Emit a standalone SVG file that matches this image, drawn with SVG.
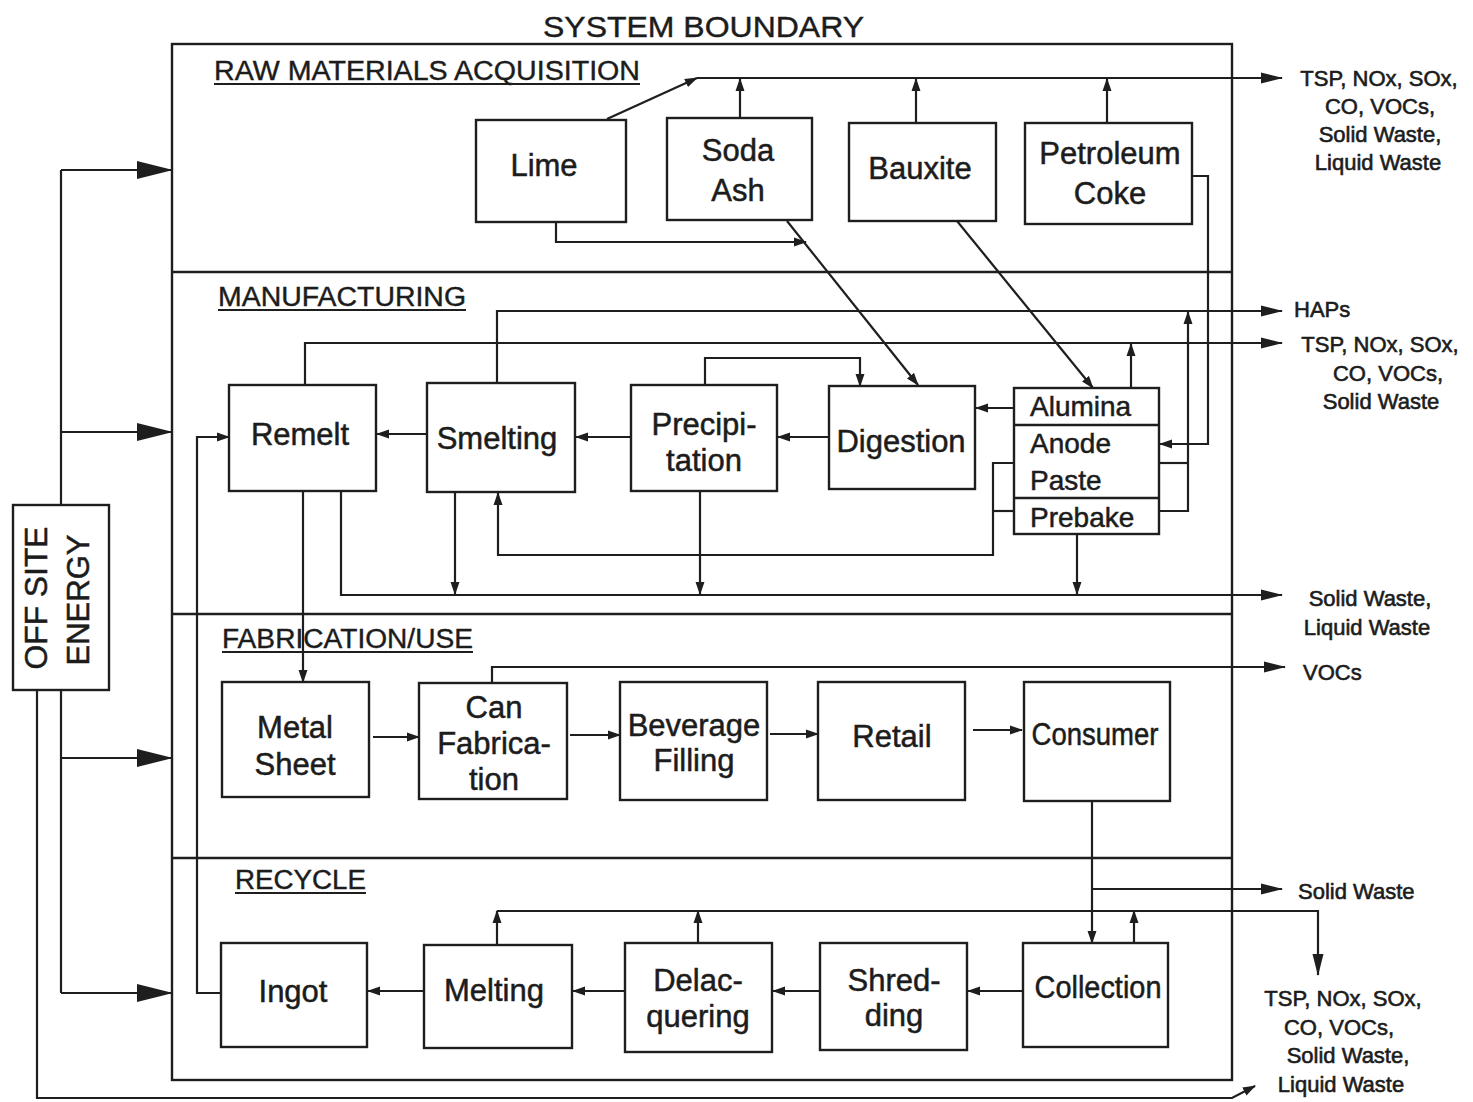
<svg xmlns="http://www.w3.org/2000/svg" width="1473" height="1102" viewBox="0 0 1473 1102">
<style>
.bg{fill:#fff}
.bd{fill:none;stroke:#1e1e1e;stroke-width:2.4}
.box{fill:#fff;stroke:#1e1e1e;stroke-width:2.4}
.t{font-family:"Liberation Sans",Arial,sans-serif;font-size:31px;fill:#1c1c1c;stroke:#1c1c1c;stroke-width:0.5;text-anchor:middle}
.ts{font-family:"Liberation Sans",Arial,sans-serif;font-size:28px;fill:#1c1c1c;stroke:#1c1c1c;stroke-width:0.5}
.sec{font-family:"Liberation Sans",Arial,sans-serif;font-size:27px;fill:#1c1c1c;stroke:#1c1c1c;stroke-width:0.4}
.em{font-family:"Liberation Sans",Arial,sans-serif;font-size:22px;fill:#1c1c1c;stroke:#1c1c1c;stroke-width:0.6;text-anchor:middle}
.c{fill:none;stroke:#1e1e1e;stroke-width:2.2}
.ul{stroke:#1e1e1e;stroke-width:2}
</style>
<defs>
<marker id="a" markerUnits="userSpaceOnUse" markerWidth="13" markerHeight="10" refX="12" refY="5" orient="auto"><path d="M0,0.5 L13,5 L0,9.5 z" fill="#1e1e1e"/></marker>
<marker id="b" markerUnits="userSpaceOnUse" markerWidth="22" markerHeight="12" refX="21" refY="6" orient="auto"><path d="M0,0.5 L22,6 L0,11.5 z" fill="#1e1e1e"/></marker>
<marker id="h" markerUnits="userSpaceOnUse" markerWidth="36" markerHeight="20" refX="35" refY="10" orient="auto"><path d="M0,1 L36,10 L0,19 z" fill="#1e1e1e"/></marker>
</defs>
<rect class="bg" x="0" y="0" width="1473" height="1102"/>

<g id="boundary">
<text x="543" y="37" textLength="321" lengthAdjust="spacingAndGlyphs" class="sec" style="font-size:29px">SYSTEM BOUNDARY</text>
<rect class="bd" x="172" y="44" width="1060" height="1036"/>
<line class="bd" x1="172" y1="272" x2="1232" y2="272"/>
<line class="bd" x1="172" y1="614" x2="1232" y2="614"/>
<line class="bd" x1="172" y1="858" x2="1232" y2="858"/>
<text x="214" y="80" class="sec" textLength="426" lengthAdjust="spacingAndGlyphs">RAW MATERIALS ACQUISITION</text>
<line class="ul" x1="214" y1="84" x2="640" y2="84"/>
<text x="218" y="306" class="sec" textLength="248" lengthAdjust="spacingAndGlyphs">MANUFACTURING</text>
<line class="ul" x1="218" y1="310" x2="466" y2="310"/>
<text x="222" y="648" class="sec" textLength="251" lengthAdjust="spacingAndGlyphs">FABRICATION/USE</text>
<line class="ul" x1="222" y1="652" x2="473" y2="652"/>
<text x="235" y="889" class="sec" textLength="131" lengthAdjust="spacingAndGlyphs">RECYCLE</text>
<line class="ul" x1="235" y1="893" x2="366" y2="893"/>
</g>

<g id="connectors">
<path class="c" d="M607,119 L697,78" marker-end="url(#a)"/>
<path class="c" d="M697,78 H1282" marker-end="url(#b)"/>
<path class="c" d="M740,118 V79" marker-end="url(#a)"/>
<path class="c" d="M916,123 V79" marker-end="url(#a)"/>
<path class="c" d="M1107,123 V79" marker-end="url(#a)"/>
<path class="c" d="M556,222 V242 H806" marker-end="url(#a)"/>
<path class="c" d="M787,221 L918,385" marker-end="url(#a)"/>
<path class="c" d="M957,221 L1093,388" marker-end="url(#a)"/>
<path class="c" d="M1192,176 H1208 V444 H1160" marker-end="url(#a)"/>
<path class="c" d="M497,383 V311 H1282" marker-end="url(#b)"/>
<path class="c" d="M305,385 V343 H1282" marker-end="url(#b)"/>
<path class="c" d="M1131,388 V344" marker-end="url(#a)"/>
<path class="c" d="M1160,463 H1188"/>
<path class="c" d="M1160,511 H1188 V312" marker-end="url(#a)"/>
<path class="c" d="M1014,463 H993 V555 H498 V493" marker-end="url(#a)"/>
<path class="c" d="M1014,511 H993"/>
<path class="c" d="M1014,408 H976" marker-end="url(#a)"/>
<path class="c" d="M829,437 H778" marker-end="url(#a)"/>
<path class="c" d="M631,437 H576" marker-end="url(#a)"/>
<path class="c" d="M427,434 H377" marker-end="url(#a)"/>
<path class="c" d="M705,385 V358 H860 V386" marker-end="url(#a)"/>
<path class="c" d="M341,491 V595 H1282" marker-end="url(#b)"/>
<path class="c" d="M455,492 V594" marker-end="url(#a)"/>
<path class="c" d="M700,491 V594" marker-end="url(#a)"/>
<path class="c" d="M1077,534 V594" marker-end="url(#a)"/>
<path class="c" d="M303,491 V682" marker-end="url(#a)"/>
<path class="c" d="M221,993 H197 V437 H229" marker-end="url(#a)"/>
<path class="c" d="M373,737 H419" marker-end="url(#a)"/>
<path class="c" d="M570,735 H620" marker-end="url(#a)"/>
<path class="c" d="M770,734 H818" marker-end="url(#a)"/>
<path class="c" d="M973,730 H1022" marker-end="url(#a)"/>
<path class="c" d="M492,683 V667 H1285" marker-end="url(#b)"/>
<path class="c" d="M1092,801 V943" marker-end="url(#a)"/>
<path class="c" d="M1092,889 H1282" marker-end="url(#b)"/>
<path class="c" d="M1023,991 H968" marker-end="url(#a)"/>
<path class="c" d="M820,991 H773" marker-end="url(#a)"/>
<path class="c" d="M625,991 H573" marker-end="url(#a)"/>
<path class="c" d="M424,991 H368" marker-end="url(#a)"/>
<path class="c" d="M497,911 H1318 V975" marker-end="url(#b)"/>
<path class="c" d="M497,945 V911" marker-end="url(#a)"/>
<path class="c" d="M698,943 V911" marker-end="url(#a)"/>
<path class="c" d="M1134,943 V911" marker-end="url(#a)"/>
<path class="c" d="M61,170 V505"/>
<path class="c" d="M61,690 V993"/>
<path class="c" d="M61,170 H172" marker-end="url(#h)"/>
<path class="c" d="M61,432 H172" marker-end="url(#h)"/>
<path class="c" d="M61,758 H172" marker-end="url(#h)"/>
<path class="c" d="M61,993 H172" marker-end="url(#h)"/>
<path class="c" d="M37,690 V1098 H1232 L1255,1086" marker-end="url(#a)"/>
</g>

<g id="energy">
<rect class="box" x="13" y="505" width="96" height="185"/>
<text transform="translate(47,598) rotate(-90)" class="t" textLength="143" lengthAdjust="spacingAndGlyphs">OFF SITE</text>
<text transform="translate(89,600) rotate(-90)" class="t" textLength="131" lengthAdjust="spacingAndGlyphs">ENERGY</text>
</g>

<g id="lime"><rect class="box" x="476" y="120" width="150" height="102"/><text x="544" y="176" class="t">Lime</text></g>
<g id="soda-ash"><rect class="box" x="667" y="118" width="145" height="102"/><text x="738" y="161" class="t">Soda</text><text x="738" y="201" class="t">Ash</text></g>
<g id="bauxite"><rect class="box" x="849" y="123" width="147" height="98"/><text x="920" y="179" class="t">Bauxite</text></g>
<g id="petroleum-coke"><rect class="box" x="1025" y="123" width="167" height="101"/><text x="1110" y="164" class="t">Petroleum</text><text x="1110" y="204" class="t">Coke</text></g>

<g id="remelt"><rect class="box" x="229" y="385" width="147" height="106"/><text x="300" y="445" class="t">Remelt</text></g>
<g id="smelting"><rect class="box" x="427" y="383" width="148" height="109"/><text x="497" y="449" class="t">Smelting</text></g>
<g id="precipitation"><rect class="box" x="631" y="385" width="146" height="106"/><text x="704" y="435" class="t">Precipi-</text><text x="704" y="471" class="t">tation</text></g>
<g id="digestion"><rect class="box" x="829" y="386" width="146" height="103"/><text x="901" y="452" class="t">Digestion</text></g>
<g id="alumina-anode-prebake"><rect class="box" x="1014" y="388" width="145" height="146"/>
<line class="bd" x1="1014" y1="425" x2="1159" y2="425"/><line class="bd" x1="1014" y1="498" x2="1159" y2="498"/>
<text x="1030" y="416" class="ts">Alumina</text><text x="1030" y="453" class="ts">Anode</text><text x="1030" y="490" class="ts">Paste</text><text x="1030" y="527" class="ts">Prebake</text></g>

<g id="metal-sheet"><rect class="box" x="222" y="682" width="147" height="115"/><text x="295" y="738" class="t">Metal</text><text x="295" y="775" class="t">Sheet</text></g>
<g id="can-fabrication"><rect class="box" x="419" y="683" width="148" height="116"/><text x="494" y="718" class="t">Can</text><text x="494" y="754" class="t">Fabrica-</text><text x="494" y="790" class="t">tion</text></g>
<g id="beverage-filling"><rect class="box" x="620" y="682" width="147" height="118"/><text x="694" y="736" class="t">Beverage</text><text x="694" y="771" class="t">Filling</text></g>
<g id="retail"><rect class="box" x="818" y="682" width="147" height="118"/><text x="892" y="747" class="t">Retail</text></g>
<g id="consumer"><rect class="box" x="1024" y="682" width="146" height="119"/><text x="1095" y="745" class="t" textLength="127" lengthAdjust="spacingAndGlyphs">Consumer</text></g>

<g id="ingot"><rect class="box" x="221" y="943" width="146" height="104"/><text x="293" y="1002" class="t">Ingot</text></g>
<g id="melting"><rect class="box" x="424" y="945" width="148" height="103"/><text x="494" y="1001" class="t">Melting</text></g>
<g id="delacquering"><rect class="box" x="625" y="943" width="147" height="109"/><text x="698" y="991" class="t">Delac-</text><text x="698" y="1027" class="t">quering</text></g>
<g id="shredding"><rect class="box" x="820" y="943" width="147" height="107"/><text x="894" y="991" class="t">Shred-</text><text x="894" y="1026" class="t">ding</text></g>
<g id="collection"><rect class="box" x="1023" y="943" width="145" height="104"/><text x="1098" y="998" class="t" textLength="127" lengthAdjust="spacingAndGlyphs">Collection</text></g>

<g id="emissions">
<text x="1379" y="86" class="em">TSP, NOx, SOx,</text>
<text x="1380" y="114" class="em">CO, VOCs,</text>
<text x="1380" y="142" class="em">Solid Waste,</text>
<text x="1378" y="170" class="em">Liquid Waste</text>
<text x="1294" y="317" class="em" style="text-anchor:start">HAPs</text>
<text x="1380" y="352" class="em">TSP, NOx, SOx,</text>
<text x="1388" y="381" class="em">CO, VOCs,</text>
<text x="1381" y="409" class="em">Solid Waste</text>
<text x="1370" y="606" class="em">Solid Waste,</text>
<text x="1367" y="635" class="em">Liquid Waste</text>
<text x="1303" y="680" class="em" style="text-anchor:start">VOCs</text>
<text x="1298" y="899" class="em" style="text-anchor:start">Solid Waste</text>
<text x="1343" y="1006" class="em">TSP, NOx, SOx,</text>
<text x="1339" y="1035" class="em">CO, VOCs,</text>
<text x="1348" y="1063" class="em">Solid Waste,</text>
<text x="1341" y="1092" class="em">Liquid Waste</text>
</g>
</svg>
